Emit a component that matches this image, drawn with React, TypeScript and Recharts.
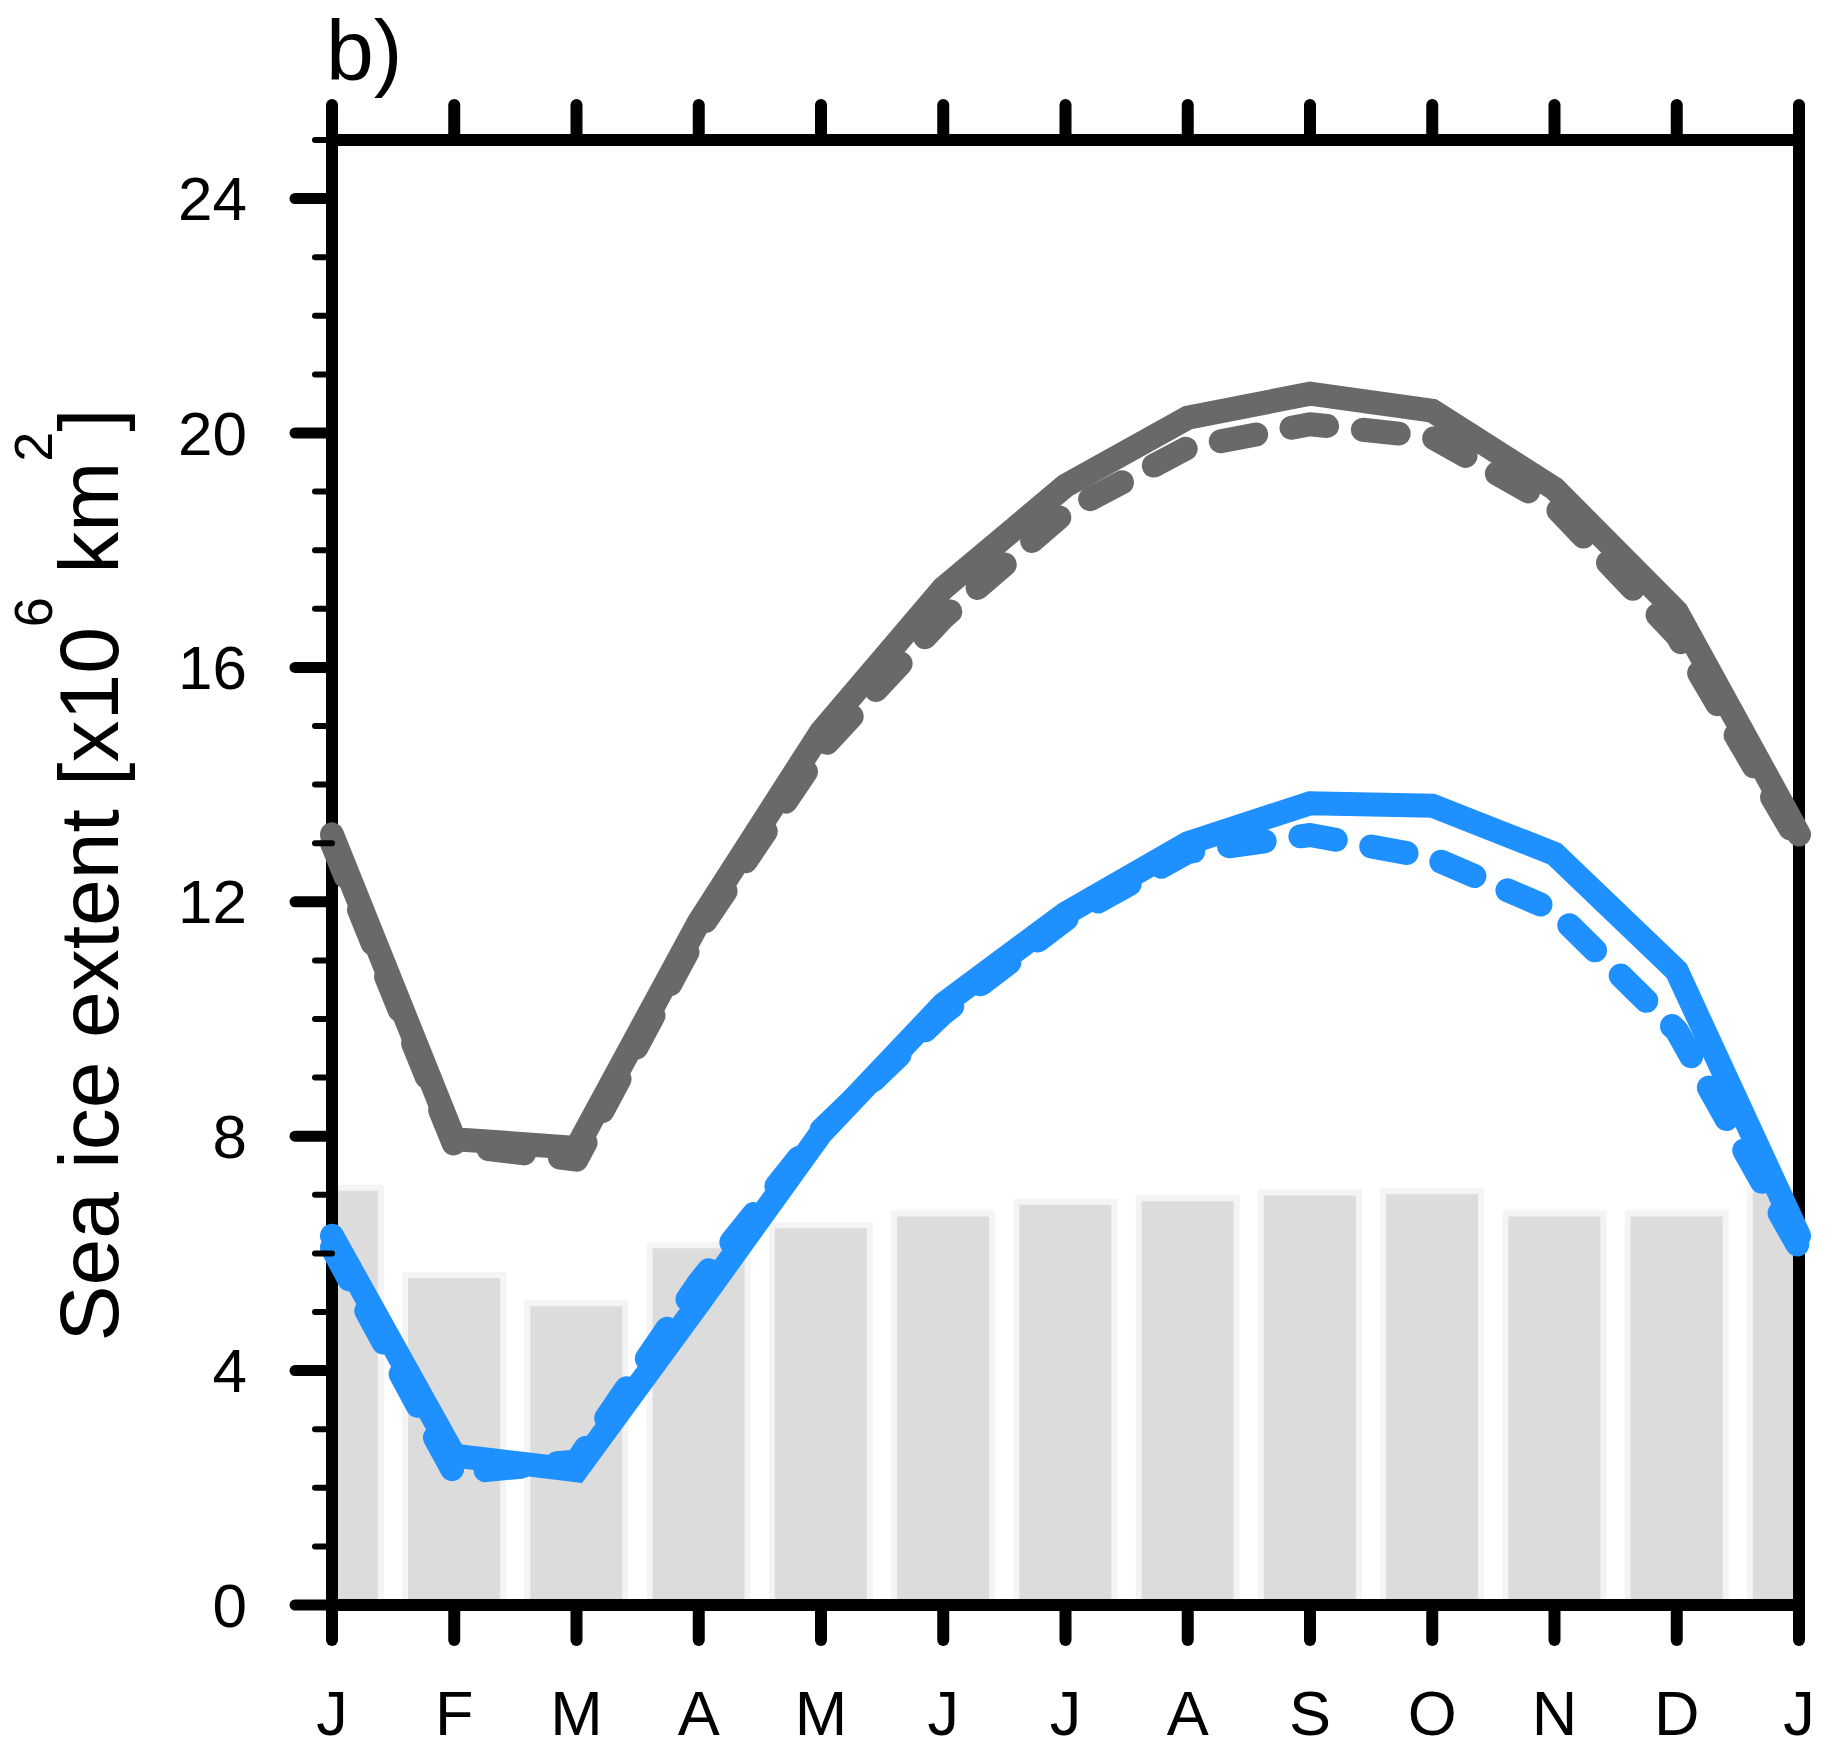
import React from "react";
import { ComposedChart, Bar, Line, XAxis, YAxis } from "recharts";

// month index 0..12 (Jan .. Jan)
const months = ["J", "F", "M", "A", "M", "J", "J", "A", "S", "O", "N", "D", "J"];
const barValues = [7.12, 5.63, 5.15, 6.14, 6.48, 6.68, 6.88, 6.94, 7.04, 7.06, 6.68, 6.68, 7.12];
const graySolid = [13.15, 7.95, 7.8, 11.65, 14.9, 17.35, 19.1, 20.26, 20.67, 20.38, 19.05, 16.95, 13.15];
const grayDashed = [13.0, 7.85, 7.6, 11.5, 14.6, 16.85, 18.65, 19.75, 20.15, 19.93, 18.75, 16.55, 13.0];
const blueSolid = [6.3, 2.55, 2.3, 5.15, 8.05, 10.25, 11.8, 13.0, 13.68, 13.64, 12.82, 10.82, 6.3];
const blueDashed = [6.1, 2.25, 2.45, 5.5, 8.1, 10.1, 11.7, 12.85, 13.14, 12.75, 11.85, 9.8, 6.1];

const xTicks = months.map((_, i) => i);
const yTicks = Array.from({ length: 26 }, (_, i) => i);

const data = months.map((m, i) => ({
  m: i,
  bar: barValues[i],
  graySolid: graySolid[i],
  grayDashed: grayDashed[i],
  blueSolid: blueSolid[i],
  blueDashed: blueDashed[i],
}));

const FONT = "'Liberation Sans', Arial, Helvetica, sans-serif";
const GRAY = "#696969";
const BLUE = "#1e90ff";
const axisLine = { stroke: "#000", strokeWidth: 12, strokeLinecap: "square" as const };

const LeftTick = (props: any) => {
  const { x, y, payload } = props;
  const major = payload.value % 4 === 0;
  return (
    <g>
      <line x1={x} x2={x - (major ? 37 : 17)} y1={y} y2={y} stroke="#000"
        strokeWidth={major ? 11 : 6} strokeLinecap="round" />
      {major && (
        <text x={x - 85} y={y} textAnchor="end" dominantBaseline="central"
          fontSize={62} fontFamily={FONT} fill="#000">
          {payload.value}
        </text>
      )}
    </g>
  );
};

const RightTick = (props: any) => {
  const { x, y, payload } = props;
  const major = payload.value % 4 === 0;
  return (
    <line x1={x} x2={x + (major ? 37 : 17)} y1={y} y2={y} stroke="#000"
      strokeWidth={major ? 11 : 6} strokeLinecap="round" />
  );
};

const BottomTick = (props: any) => {
  const { x, y, payload } = props;
  return (
    <g>
      <line x1={x} x2={x} y1={y} y2={y + 35} stroke="#000" strokeWidth={12} strokeLinecap="round" />
      <text x={x} y={y + 130} textAnchor="middle" fontSize={63} fontFamily={FONT} fill="#000">
        {months[payload.value]}
      </text>
    </g>
  );
};

const TopTick = (props: any) => {
  const { x, y } = props;
  return <line x1={x} x2={x} y1={y} y2={y - 35} stroke="#000" strokeWidth={12} strokeLinecap="round" />;
};

const YTitle = () => (
  <text transform="rotate(-90)" x={-875} y={118} textAnchor="middle" fontSize={84}
    fontFamily={FONT} fill="#000">
    Sea ice extent [x10
    <tspan dy={-66} fontSize={54}>6</tspan>
    <tspan dy={66}> km</tspan>
    <tspan dy={-66} fontSize={54}>2</tspan>
    <tspan dy={66}>]</tspan>
  </text>
);

const PanelLabel = () => (
  <text x={326} y={80} fontSize={86} fontFamily={FONT} fill="#000">
    b)
  </text>
);

export default function App() {
  return (
    <div style={{ position: "absolute", left: 0, top: 0, width: 1829, height: 1750, background: "#fff" }}>
      <ComposedChart width={1829} height={1750} data={data}
        margin={{ top: 139, right: 29, bottom: 144, left: 331 }}>
        <Bar xAxisId="top" yAxisId="left" dataKey="bar" barSize={98} fill="#dcdcdc"
          stroke="#f4f4f4" strokeWidth={6} isAnimationActive={false} />
        <XAxis xAxisId="bottom" dataKey="m" type="number" domain={[0, 12]} ticks={xTicks}
          interval={0} orientation="bottom" height={1} tickSize={0} tickMargin={0}
          axisLine={axisLine} tickLine={false} tick={<BottomTick />} />
        <XAxis xAxisId="top" dataKey="m" type="number" domain={[0, 12]} ticks={xTicks}
          interval={0} orientation="top" height={1} tickSize={0} tickMargin={0} allowDataOverflow
          axisLine={axisLine} tickLine={false} tick={<TopTick />} label={<PanelLabel />} />
        <YAxis yAxisId="left" type="number" domain={[0, 25]} ticks={yTicks} interval={0}
          width={1} tickSize={0} tickMargin={0} axisLine={axisLine} tickLine={false}
          tick={<LeftTick />} label={<YTitle />} />
        <YAxis yAxisId="right" orientation="right" type="number" domain={[0, 25]} ticks={yTicks}
          interval={0} width={1} tickSize={0} tickMargin={0} axisLine={axisLine} tickLine={false}
          tick={<RightTick />} />
        <Line xAxisId="bottom" yAxisId="left" type="linear" dataKey="grayDashed" stroke={GRAY}
          strokeWidth={24} strokeDasharray="36 36" strokeLinecap="round" strokeLinejoin="round"
          dot={false} activeDot={false} isAnimationActive={false} zIndex={600} />
        <Line xAxisId="bottom" yAxisId="left" type="linear" dataKey="graySolid" stroke={GRAY}
          strokeWidth={24} strokeLinecap="round" dot={false} activeDot={false}
          isAnimationActive={false} zIndex={600} />
        <Line xAxisId="bottom" yAxisId="left" type="linear" dataKey="blueDashed" stroke={BLUE}
          strokeWidth={24} strokeDasharray="36 36" strokeLinecap="round" strokeLinejoin="round"
          dot={false} activeDot={false} isAnimationActive={false} zIndex={600} />
        <Line xAxisId="bottom" yAxisId="left" type="linear" dataKey="blueSolid" stroke={BLUE}
          strokeWidth={24} strokeLinecap="round" dot={false} activeDot={false}
          isAnimationActive={false} zIndex={600} />
      </ComposedChart>
    </div>
  );
}
